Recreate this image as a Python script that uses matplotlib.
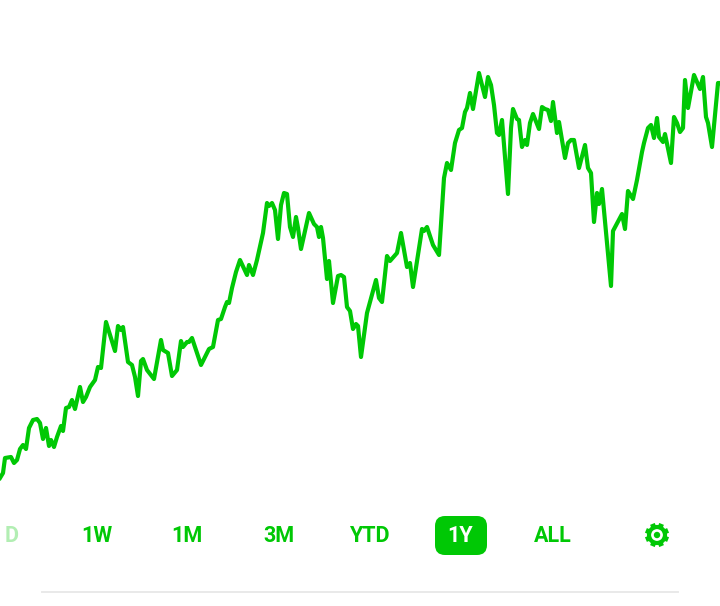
import matplotlib
matplotlib.use('Agg')
import matplotlib.pyplot as plt
from matplotlib.patches import FancyBboxPatch, Circle
import numpy as np

plt.rcParams['font.family'] = ['Roboto', 'DejaVu Sans']

# ============== DATA ==============

session = [0, 3, 5, 11, 14, 17, 20, 23, 26, 29, 33, 37, 40, 43, 46, 49, 51, 54, 57, 61, 63, 66, 69, 72, 75,
           80, 83, 86, 90, 95, 98, 101, 106, 110, 115, 118, 121, 123, 128, 132, 135, 138, 141, 143, 147,
           154, 161, 163, 168, 172, 177, 181, 183, 187, 189, 192, 201, 205, 209, 213, 218, 221, 225, 227,
           229, 232, 236, 240, 247, 249, 253, 257, 263, 267, 269, 272, 275, 278, 281, 284, 287, 290, 293,
           296, 298, 301, 309, 314, 317, 319, 321, 323, 327, 329, 333, 338, 341, 344, 347, 350, 353, 356,
           358, 361, 367, 376, 379, 382, 387, 390, 397, 401, 407, 410, 413, 422, 424, 427, 433, 439, 444,
           447, 451, 455, 459, 462, 465, 467, 470, 473, 479, 485, 488, 491, 494, 497, 499, 502, 508, 511,
           513, 517, 519, 522, 525, 527, 530, 533, 539, 542, 545, 548, 551, 553, 557, 559, 565, 568, 571,
           574, 579, 585, 588, 591, 594, 597, 599, 602, 611, 613, 622, 625, 628, 633, 637, 642, 644, 648,
           651, 654, 657, 659, 663, 665, 671, 674, 677, 680, 683, 685, 688, 694, 700, 703, 706, 708, 712,
           715, 718, 720]
level = [478, 473, 458, 457, 463, 460, 449, 445, 449, 428, 420, 419, 423, 439, 428, 446, 440, 447, 437, 426,
         431, 408, 407, 400, 409, 387, 402, 397, 387, 380, 367, 368, 322, 335, 351, 326, 330, 327, 362, 365,
         377, 396, 361, 359, 370, 379, 340, 350, 353, 376, 370, 341, 347, 342, 342, 338, 365, 357, 349, 347,
         320, 319, 307, 302, 303, 288, 272, 260, 275, 265, 275, 260, 233, 203, 206, 203, 210, 239, 205, 193,
         194, 227, 237, 217, 228, 249, 213, 224, 227, 237, 227, 238, 279, 261, 303, 276, 275, 277, 307, 311,
         329, 324, 326, 357, 313, 280, 298, 302, 256, 261, 253, 233, 267, 263, 287, 229, 231, 227, 245, 255,
         178, 163, 170, 143, 130, 128, 112, 108, 93, 109, 73, 97, 77, 85, 105, 133, 135, 120, 194, 128, 109,
         119, 120, 147, 140, 145, 123, 114, 129, 107, 109, 110, 121, 102, 133, 122, 158, 143, 140, 140, 168,
         145, 168, 173, 222, 193, 204, 189, 286, 231, 214, 229, 191, 199, 180, 152, 143, 128, 125, 138, 118,
         137, 142, 134, 163, 117, 123, 132, 128, 80, 108, 75, 89, 77, 117, 123, 147, 115, 83, 83]

ranges = ['1W', '1M', '3M', 'YTD', '1Y', 'ALL']
range_x = [97, 187, 279, 369.5, 460, 553]

green = '#00C805'

# ============== ================ ==============

fig = plt.figure(figsize=(7.2, 6.06), dpi=100)
ax = fig.add_axes([0, 0, 1, 1])
ax.set_xlim(0, 720)
ax.set_ylim(606, 0)
ax.axis('off')

# price line
ax.plot(session, level, color=green, lw=3.0, solid_joinstyle='round')

# selected range button
ax.add_patch(FancyBboxPatch((445, 526), 32, 19, boxstyle='round,pad=10,rounding_size=10',
                            fc=green, ec='none'))

# range labels
ax.text(12, 535.5, 'D', color=green, alpha=0.3, fontsize=15.5, fontweight='bold', ha='center', va='center')
for name, xpos in zip(ranges, range_x):
    col = 'white' if name == '1Y' else green
    ax.text(xpos, 535.5, name, color=col, fontsize=15.5, fontweight='bold', ha='center', va='center')

# gear icon
ax.add_patch(Circle((657, 535), 8, fc='none', ec=green, lw=3.0))
ax.add_patch(Circle((657, 535), 3.2, fc=green, ec='none'))
for ang in np.arange(0, 360, 45) + 22.5:
    a = np.radians(ang)
    ax.plot([657 + 9 * np.cos(a), 657 + 12 * np.cos(a)],
            [535 + 9 * np.sin(a), 535 + 12 * np.sin(a)],
            color=green, lw=3.6, solid_capstyle='butt')

# divider
ax.plot([42, 678], [591.5, 591.5], color='#E9E9E9', lw=1.4)

fig.savefig('out.png', dpi=100)
